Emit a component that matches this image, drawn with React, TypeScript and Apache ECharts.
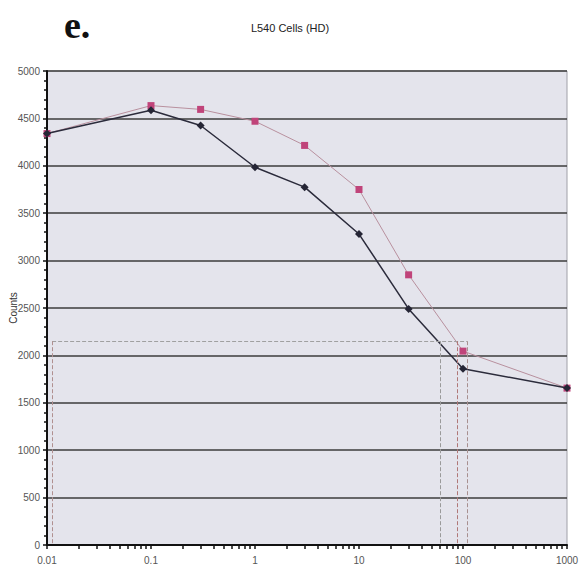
import React, { useEffect, useRef } from "react";
import * as echarts from "echarts";

const xValues = [0.01, 0.1, 0.3, 1, 3, 10, 30, 100, 1000];
const darkCounts = [4340, 4585, 4425, 3985, 3775, 3280, 2490, 1860, 1655];
const pinkCounts = [4340, 4635, 4595, 4470, 4215, 3750, 2850, 2045, 1655];
const xTickLabels = [0.01, 0.1, 1, 10, 100, 1000];
const refLevel = 2150;
const refXs = [0.0112, 60, 88, 109];
const refColors = ["#b09090", "#9a9a9a", "#b07878", "#a89090"];

const minorXTicks: number[] = [];
[0.01, 0.1, 1, 10, 100].forEach((d) => {
  for (let k = 1; k <= 9; k++) minorXTicks.push(d * k);
});
minorXTicks.push(1000);

const FONT = "'Liberation Sans Narrow', 'Arial Narrow', 'Liberation Sans', sans-serif";

export default function App() {
  const ref = useRef<HTMLDivElement>(null);
  useEffect(() => {
    if (!ref.current) return;
    const chart = echarts.init(ref.current, undefined, { renderer: "svg" });
    const refLines: any[] = [
      [
        { coord: [refXs[0], refLevel], lineStyle: { color: "#a0a0a0" } },
        { coord: [refXs[3], refLevel] },
      ],
      ...refXs.map((x, i) => [
        { coord: [x, refLevel], lineStyle: { color: refColors[i] } },
        { coord: [x, 0] },
      ]),
    ];
    chart.setOption({
      animation: false,
      backgroundColor: "#ffffff",
      title: {
        text: "L540 Cells (HD)",
        left: "center",
        top: 17,
        textStyle: { fontSize: 11, fontWeight: "normal", color: "#222", fontFamily: FONT },
      },
      graphic: [
        {
          type: "text",
          left: 64,
          top: 6,
          style: {
            text: "e.",
            font: "bold 38px 'Liberation Serif', 'DejaVu Serif', serif",
            fill: "#111",
          },
        },
      ],
      grid: {
        left: 47,
        right: 13,
        top: 71,
        bottom: 28,
        outerBoundsMode: "none",
        containLabel: false,
        show: true,
        backgroundColor: "#e4e4ec",
        borderColor: "#a0a0a8",
        borderWidth: 1,
      },
      xAxis: {
        type: "log",
        logBase: 10,
        min: 0.01,
        max: 1000,
        axisLine: { show: true, lineStyle: { color: "#111", width: 2 } },
        axisTick: {
          show: true,
          customValues: minorXTicks,
          length: 4,
          lineStyle: { color: "#111", width: 1.5 },
        },
        axisLabel: {
          customValues: xTickLabels,
          margin: 10,
          fontSize: 10,
          color: "#555555",
          fontFamily: FONT,
          formatter: (v: number) => String(v),
        },
        splitLine: { show: false },
      },
      yAxis: {
        type: "value",
        min: 0,
        max: 5000,
        interval: 500,
        name: "Counts",
        nameLocation: "middle",
        nameGap: 29,
        nameMoveOverlap: false,
        nameTextStyle: { fontSize: 10, color: "#333", fontFamily: "'Liberation Sans', sans-serif" },
        axisLine: { show: true, lineStyle: { color: "#111", width: 2 } },
        axisTick: { show: true, length: 4, lineStyle: { color: "#111", width: 1.5 } },
        minorTick: { show: true, splitNumber: 5, length: 3, lineStyle: { color: "#111", width: 1.5 } },
        axisLabel: {
          margin: 7,
          fontSize: 10,
          color: "#555555",
          fontFamily: FONT,
          formatter: (v: number) => String(v),
        },
        splitLine: { show: true, lineStyle: { color: "#3c3c3c", width: 1.5 } },
      },
      series: [
        {
          type: "line",
          data: xValues.map((x, i) => [x, pinkCounts[i]]),
          symbol: "rect",
          symbolSize: 7,
          itemStyle: { color: "#c0447a" },
          lineStyle: { color: "#b8909e", width: 1 },
          z: 3,
          markLine: {
            silent: true,
            symbol: "none",
            label: { show: false },
            lineStyle: { type: "dashed", width: 1, color: "#a0a0a0" },
            data: refLines,
          },
        },
        {
          type: "line",
          data: xValues.map((x, i) => [x, darkCounts[i]]),
          symbol: "diamond",
          symbolSize: 8,
          itemStyle: { color: "#252535" },
          lineStyle: { color: "#2b2b3b", width: 1.5 },
          z: 4,
        },
      ],
    });
    return () => chart.dispose();
  }, []);
  return <div ref={ref} style={{ width: 580, height: 573, position: "absolute", left: 0, top: 0 }} />;
}
